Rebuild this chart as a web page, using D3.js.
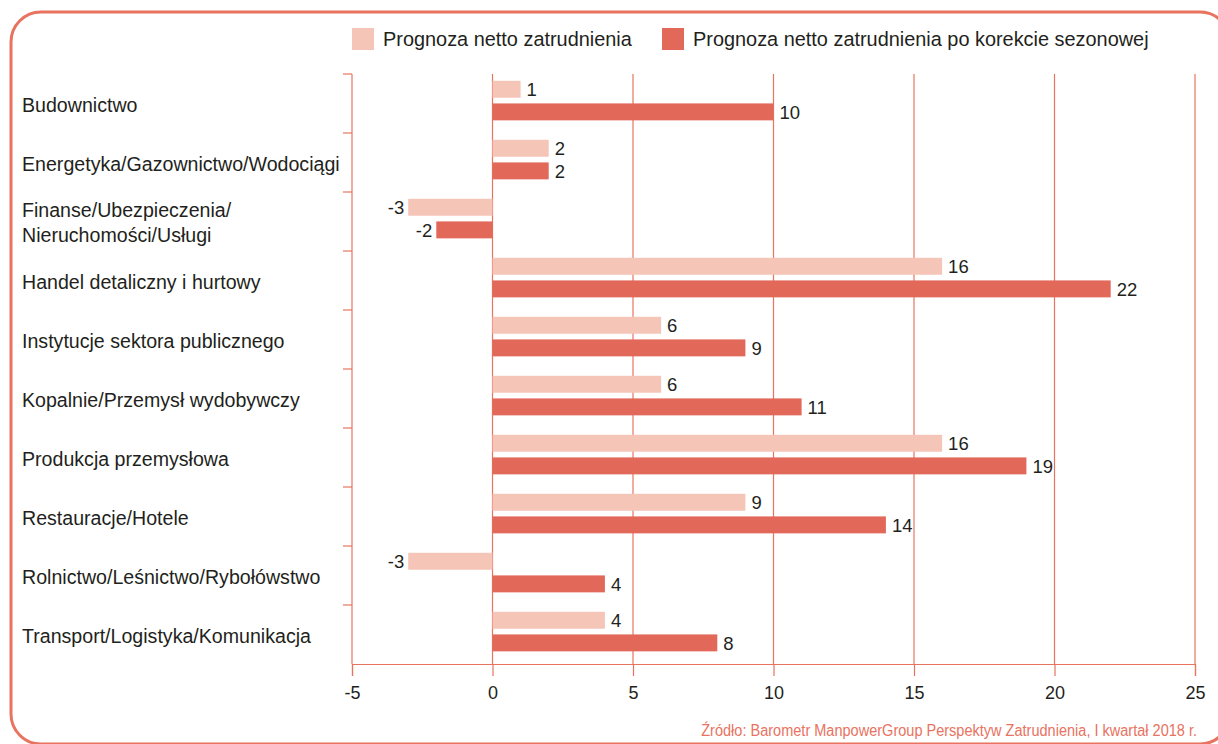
<!DOCTYPE html>
<html>
<head>
<meta charset="utf-8">
<script src="https://cdn.jsdelivr.net/npm/d3@7"></script>
<style>
  body { margin: 0; background: #fff; }
  text { font-family: "Liberation Sans", Arial, Helvetica, sans-serif; fill: #231f20; }
</style>
</head>
<body>
<div id="chart"></div>
<script>
const categories = [
  "Budownictwo",
  "Energetyka/Gazownictwo/Wodociągi",
  "Finanse/Ubezpieczenia/\nNieruchomości/Usługi",
  "Handel detaliczny i hurtowy",
  "Instytucje sektora publicznego",
  "Kopalnie/Przemysł wydobywczy",
  "Produkcja przemysłowa",
  "Restauracje/Hotele",
  "Rolnictwo/Leśnictwo/Rybołówstwo",
  "Transport/Logistyka/Komunikacja",
];
const netForecast = [1, 2, -3, 16, 6, 6, 16, 9, -3, 4];
const adjustedForecast = [10, 2, -2, 22, 9, 11, 19, 14, 4, 8];
const seriesNames = [
  "Prognoza netto zatrudnienia",
  "Prognoza netto zatrudnienia po korekcie sezonowej",
];
const xTicks = [-5, 0, 5, 10, 15, 20, 25];
const sourceText =
  "Źródło: Barometr ManpowerGroup Perspektyw Zatrudnienia, I kwartał 2018 r.";

const colors = ["#f5c6b8", "#e2685a"];
const lineColor = "#e8735f";

const W = 1218;
const H = 744;
const margin = { top: 74, right: 23, bottom: 80, left: 352 };
const width = W - margin.left - margin.right;
const height = H - margin.top - margin.bottom;

const svg = d3
  .select("#chart")
  .append("svg")
  .attr("width", W)
  .attr("height", H);

// rounded frame (runs off the right and bottom edges a little)
svg
  .append("rect")
  .attr("x", 11)
  .attr("y", 12)
  .attr("width", 1219)
  .attr("height", 732)
  .attr("rx", 30)
  .attr("fill", "none")
  .attr("stroke", lineColor)
  .attr("stroke-width", 3);

const g = svg
  .append("g")
  .attr("transform", `translate(${margin.left}, ${margin.top})`);

const xScale = d3.scaleLinear().domain([-5, 25]).range([0, width]);

const yScale = d3
  .scaleBand()
  .domain(d3.range(categories.length))
  .range([0, height]);

const seriesScale = d3
  .scaleBand()
  .domain([0, 1])
  .range([0, yScale.bandwidth()])
  .paddingInner(0.25)
  .paddingOuter(0.43)
  .align(0.35);

// vertical gridlines
g.append("g")
  .selectAll("line")
  .data(xTicks.filter((t) => t > -5))
  .enter()
  .append("line")
  .attr("x1", (d) => xScale(d))
  .attr("x2", (d) => xScale(d))
  .attr("y1", 0)
  .attr("y2", height)
  .attr("stroke", lineColor)
  .attr("stroke-width", 1.2);

// bars
const rows = categories.map((c, i) => ({
  i,
  values: [netForecast[i], adjustedForecast[i]],
}));

const row = g
  .selectAll(".row")
  .data(rows)
  .enter()
  .append("g")
  .attr("class", "row")
  .attr("transform", (d) => `translate(0, ${yScale(d.i)})`);

row
  .selectAll("rect")
  .data((d) => d.values.map((v, s) => ({ v, s })))
  .enter()
  .append("rect")
  .attr("x", (d) => xScale(Math.min(0, d.v)))
  .attr("y", (d) => seriesScale(d.s))
  .attr("width", (d) => Math.abs(xScale(d.v) - xScale(0)))
  .attr("height", seriesScale.bandwidth())
  .attr("fill", (d) => colors[d.s]);

row
  .selectAll(".val")
  .data((d) => d.values.map((v, s) => ({ v, s })))
  .enter()
  .append("text")
  .attr("class", "val")
  .attr("x", (d) => (d.v < 0 ? xScale(d.v) - 4 : xScale(d.v) + 6))
  .attr("y", (d) => seriesScale(d.s) + seriesScale.bandwidth() / 2)
  .attr("dy", "0.36em")
  .attr("text-anchor", (d) => (d.v < 0 ? "end" : "start"))
  .style("font-size", "18.5px")
  .text((d) => d.v);

// y axis: line + boundary ticks
g.append("line")
  .attr("x1", 0)
  .attr("x2", 0)
  .attr("y1", 0)
  .attr("y2", height)
  .attr("stroke", lineColor)
  .attr("stroke-width", 1.2);

g.append("g")
  .selectAll("line")
  .data(d3.range(categories.length))
  .enter()
  .append("line")
  .attr("x1", -9)
  .attr("x2", 0)
  .attr("y1", (d) => yScale(d))
  .attr("y2", (d) => yScale(d))
  .attr("stroke", lineColor)
  .attr("stroke-width", 1.2);

// category labels
const catLabel = g
  .selectAll(".cat")
  .data(categories)
  .enter()
  .append("text")
  .attr("class", "cat")
  .attr("x", 22 - margin.left)
  .attr("y", (d, i) => yScale(i) + yScale.bandwidth() / 2 + 1)
  .style("font-size", "19.6px");

catLabel.each(function (d) {
  const lines = d.split("\n");
  const t = d3.select(this);
  lines.forEach((ln, k) => {
    t.append("tspan")
      .attr("x", 22 - margin.left)
      .attr("dy", k === 0 ? `${0.36 - (lines.length - 1) * 0.62}em` : "1.24em")
      .text(ln);
  });
});

// x axis
const xAxis = d3
  .axisBottom(xScale)
  .tickValues(xTicks)
  .tickSize(12)
  .tickPadding(10)
  .tickFormat((d) => String(d));

const xg = g
  .append("g")
  .attr("transform", `translate(0, ${height})`)
  .call(xAxis);

xg.select(".domain").attr("stroke", lineColor).attr("stroke-width", 1.2);
xg.selectAll(".tick line").attr("stroke", lineColor).attr("stroke-width", 1.2);
xg.selectAll(".tick text")
  .attr("fill", "#231f20")
  .style("font-family", '"Liberation Sans", Arial, sans-serif')
  .style("font-size", "18px");

// legend
const legendX = [352, 662];
const legend = svg
  .append("g")
  .selectAll("g")
  .data(seriesNames)
  .enter()
  .append("g")
  .attr("transform", (d, i) => `translate(${legendX[i]}, 28)`);

legend
  .append("rect")
  .attr("width", 22)
  .attr("height", 22)
  .attr("fill", (d, i) => colors[i]);

legend
  .append("text")
  .attr("x", 31)
  .attr("y", 11)
  .attr("dy", "0.36em")
  .style("font-size", "19.9px")
  .text((d) => d);

// source, slightly condensed
svg
  .append("g")
  .attr("transform", "translate(1197, 736) scale(0.92, 1)")
  .append("text")
  .attr("text-anchor", "end")
  .style("font-size", "15.8px")
  .style("fill", lineColor)
  .text(sourceText);
</script>
</body>
</html>
